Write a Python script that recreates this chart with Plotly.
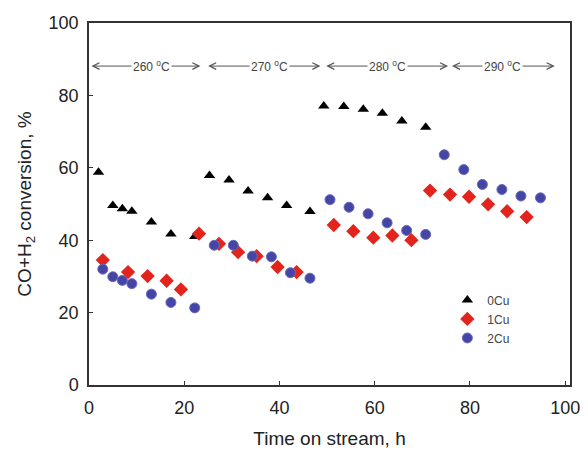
import plotly.graph_objects as go

# 0Cu (triangles)
x_0cu = [2.0, 5.0, 7.0, 9.0, 13.1, 17.2, 22.2, 25.3, 29.4, 33.4, 37.5, 41.5, 46.4,
         49.3, 53.5, 57.6, 61.6, 65.7, 70.7]
y_0cu = [58.8, 49.6, 48.7, 48.0, 45.0, 41.7, 41.0, 57.9, 56.6, 53.6, 51.7, 49.6, 47.9,
         77.1, 76.9, 76.2, 75.1, 72.9, 71.2]

# 1Cu (diamonds)
x_1cu = [2.9, 8.2, 12.3, 16.3, 19.3, 23.1, 27.3, 31.3, 35.2, 39.6, 43.6,
         51.4, 55.5, 59.7, 63.7, 67.7, 71.6, 75.8, 79.8, 83.8, 87.8, 91.9]
y_1cu = [34.5, 31.2, 30.1, 28.8, 26.4, 41.8, 39.0, 36.7, 35.6, 32.6, 31.2,
         44.2, 42.5, 40.7, 41.3, 40.0, 53.7, 52.6, 52.0, 49.9, 48.0, 46.4]

# 2Cu (circles)
x_2cu = [2.9, 5.0, 7.0, 9.0, 13.1, 17.2, 22.2, 26.3, 30.3, 34.3, 38.3, 42.3, 46.4,
         50.6, 54.6, 58.6, 62.6, 66.7, 70.7, 74.6, 78.7, 82.6, 86.7, 90.7, 94.8]
y_2cu = [32.0, 29.9, 28.9, 28.0, 25.1, 22.8, 21.3, 38.6, 38.6, 35.6, 35.4, 31.0, 29.5,
         51.2, 49.1, 47.3, 44.8, 42.7, 41.6, 63.6, 59.5, 55.4, 54.0, 52.2, 51.7]

# Temperature regions
temp_labels = ["260 <sup>o</sup>C", "270 <sup>o</sup>C", "280 <sup>o</sup>C", "290 <sup>o</sup>C"]
seg_start = [0.2, 24.7, 49.5, 75.9]
seg_end = [23.4, 48.6, 75.4, 97.8]
label_x = [13.2, 38.0, 62.7, 86.9]
arrow_y = 88.1

x_ticks = [0, 20, 40, 60, 80, 100]
y_ticks = [0, 20, 40, 60, 80, 100]

FONT = "Liberation Sans, Arial"

fig = go.Figure()
fig.add_trace(go.Scatter(x=x_0cu, y=y_0cu, mode="markers", name="0Cu",
                         marker=dict(symbol="triangle-up", size=10, color="black")))
fig.add_trace(go.Scatter(x=x_1cu, y=y_1cu, mode="markers", name="1Cu",
                         marker=dict(symbol="diamond", size=11, color="#e3241c")))
fig.add_trace(go.Scatter(x=x_2cu, y=y_2cu, mode="markers", name="2Cu",
                         marker=dict(symbol="circle", size=10, color="#4545a5",
                                     line=dict(color="#6a6ac0", width=1))))

for s, e, lx, t in zip(seg_start, seg_end, label_x, temp_labels):
    fig.add_annotation(x=e, y=arrow_y, ax=s, ay=arrow_y, axref="x", ayref="y",
                       xref="x", yref="y", text="", showarrow=True,
                       arrowside="end+start", arrowhead=5, arrowsize=1.3,
                       arrowwidth=1, arrowcolor="#555555")
    fig.add_annotation(x=lx, y=arrow_y, xref="x", yref="y", text=t, showarrow=False,
                       bgcolor="white", borderpad=1,
                       font=dict(family=FONT, size=12, color="#444444"))

axis_common = dict(showline=True, linecolor="#333333", linewidth=1.5, mirror=True,
                   ticks="inside", ticklen=4, tickcolor="#333333", showgrid=False,
                   zeroline=False, automargin=False,
                   tickfont=dict(family=FONT, size=18, color="#222222"))

fig.update_xaxes(range=[0, 101], tickvals=x_ticks, ticklabelstandoff=6, **axis_common,
                 title=dict(text="Time on stream, h", standoff=14,
                            font=dict(family=FONT, size=19, color="#222222")))
fig.update_yaxes(range=[0, 100], tickvals=y_ticks, ticklabelstandoff=5, **axis_common,
                 title=dict(text="CO+H<sub>2</sub> conversion, %", standoff=12,
                            font=dict(family=FONT, size=19, color="#222222")))

fig.update_layout(
    width=588, height=453,
    margin=dict(l=81, r=26, t=15, b=76),
    plot_bgcolor="white", paper_bgcolor="white",
    showlegend=True,
    legend=dict(x=0.745, y=0.275, xanchor="left", yanchor="top",
                bgcolor="rgba(0,0,0,0)", tracegroupgap=0,
                font=dict(family=FONT, size=12, color="#444444")),
)

fig.write_html("out.html")
